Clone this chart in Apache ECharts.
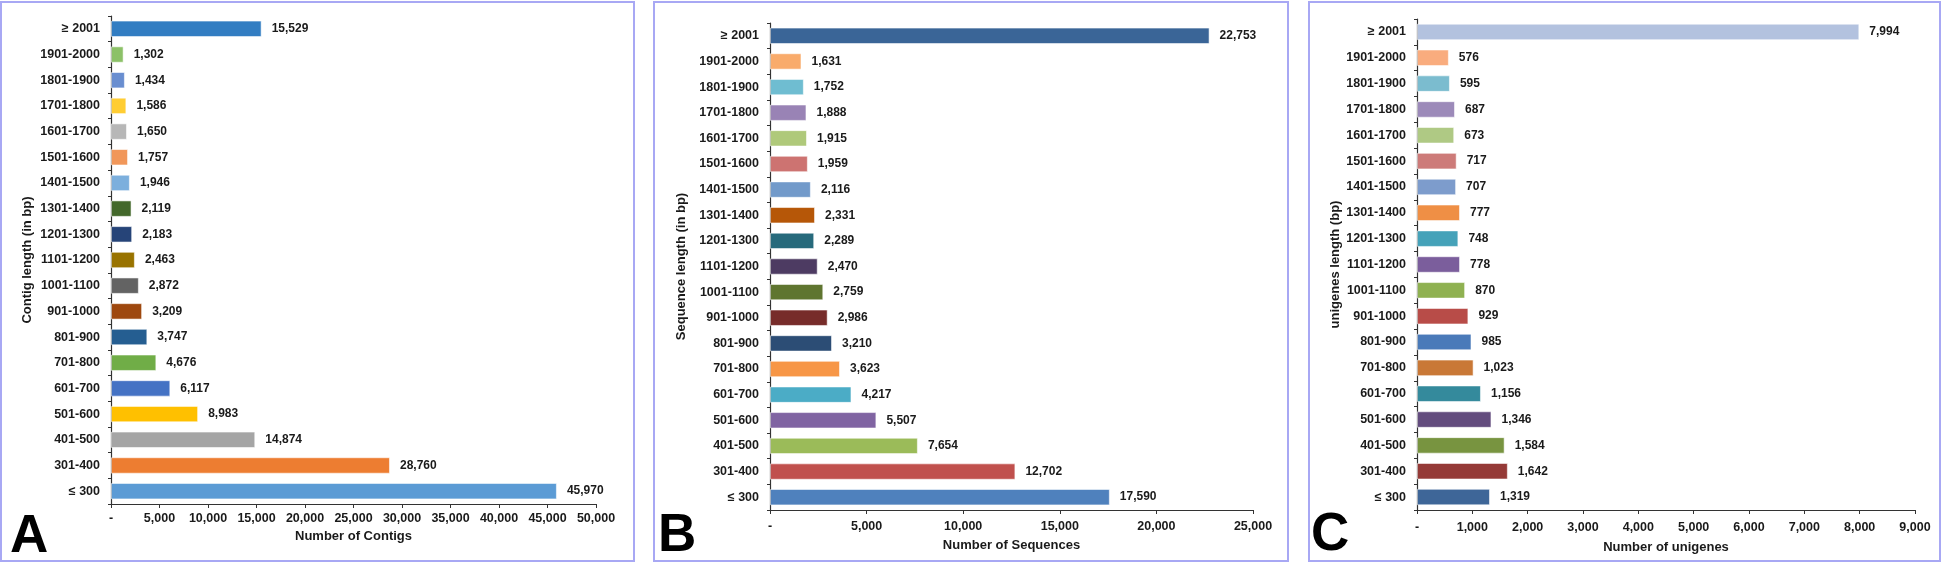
<!DOCTYPE html>
<html>
<head>
<meta charset="utf-8">
<script src="https://cdn.jsdelivr.net/npm/echarts@6/dist/echarts.min.js"></script>
<style>
html,body{margin:0;padding:0;background:#fff;}
#c{width:1943px;height:564px;}
</style>
</head>
<body>
<div id="c"></div>
<script>
// Categories, top to bottom
var categories = ['≥ 2001','1901-2000','1801-1900','1701-1800','1601-1700','1501-1600','1401-1500','1301-1400','1201-1300','1101-1200','1001-1100','901-1000','801-900','701-800','601-700','501-600','401-500','301-400','≤ 300'];

// Panel A: Number of Contigs
var valuesA = [15529,1302,1434,1586,1650,1757,1946,2119,2183,2463,2872,3209,3747,4676,6117,8983,14874,28760,45970];
// Panel B: Number of Sequences
var valuesB = [22753,1631,1752,1888,1915,1959,2116,2331,2289,2470,2759,2986,3210,3623,4217,5507,7654,12702,17590];
// Panel C: Number of unigenes
var valuesC = [7994,576,595,687,673,717,707,777,748,778,870,929,985,1023,1156,1346,1584,1642,1319];

// X axis ticks
var ticksA = [0,5000,10000,15000,20000,25000,30000,35000,40000,45000,50000];
var ticksB = [0,5000,10000,15000,20000,25000];
var ticksC = [0,1000,2000,3000,4000,5000,6000,7000,8000,9000];

var colorsA = ['#327dc2','#8cc168','#698ed0','#ffcd33','#b7b7b7','#f1975a','#7cafdd','#43682b','#264478','#997300','#636363','#9e480e','#255e91','#70ad47','#4472c4','#ffc000','#a5a5a5','#ed7d31','#5b9bd5'];
var colorsB = ['#3a6597','#f9ab6b','#6fbdd1','#9983b5','#afc97a','#cd7371','#729aca','#b65708','#276a7c','#4d3b62','#5f7530','#772c2a','#2c4d75','#f79646','#4bacc6','#8064a2','#9bbb59','#c0504d','#4f81bd'];
var colorsC = ['#b3c2df','#f9ac7e','#7bbccf','#9c8ab9','#afc984','#cd7b79','#7d9ccc','#ef8f45','#45a2b9','#7b5e9c','#8fb151','#b84c48','#4a7ab9','#c97836','#348a9c','#634c7e','#789440','#953a37','#3e6698'];

var FONT = '"Liberation Sans", Arial, sans-serif';
var TXT = '#1a1a1a';
function fmt(v){ return v === 0 ? '-' : Number(v).toLocaleString('en-US'); }

var panels = [
  {grid:{left:111, top:16, width:485, height:488}, values:valuesA, colors:colorsA, ticks:ticksA,
   xName:'Number of Contigs', yName:'Contig length (in bp)', xGap:26, yGap:77, lblMargin:8},
  {grid:{left:770, top:23, width:483, height:487}, values:valuesB, colors:colorsB, ticks:ticksB,
   xName:'Number of Sequences', yName:'Sequence length (in bp)', xGap:29, yGap:82, lblMargin:10},
  {grid:{left:1417, top:19, width:498, height:491}, values:valuesC, colors:colorsC, ticks:ticksC,
   xName:'Number of unigenes', yName:'unigenes length (bp)', xGap:31, yGap:74, lblMargin:11}
];

var grids = [], xAxes = [], yAxes = [], series = [];
panels.forEach(function(p, i){
  grids.push(p.grid);
  var t = p.ticks;
  xAxes.push({
    type:'value', gridIndex:i, min:t[0], max:t[t.length-1], interval:t[1]-t[0],
    splitLine:{show:false},
    axisLine:{show:true, lineStyle:{color:'#333', width:1.2}},
    axisTick:{show:true, length:4, lineStyle:{color:'#333'}},
    axisLabel:{formatter:fmt, color:TXT, fontFamily:FONT, fontWeight:'bold', fontSize:12.5, margin:p.lblMargin},
    name:p.xName, nameLocation:'middle', nameGap:p.xGap,
    nameTextStyle:{color:TXT, fontFamily:FONT, fontWeight:'bold', fontSize:13}
  });
  yAxes.push({
    type:'category', gridIndex:i, data:categories, inverse:true,
    axisLine:{show:true, lineStyle:{color:'#333', width:1.2}},
    axisTick:{show:true, length:3, lineStyle:{color:'#333'}},
    axisLabel:{color:TXT, fontFamily:FONT, fontWeight:'bold', fontSize:12.5, margin:11},
    name:p.yName, nameLocation:'middle', nameGap:p.yGap, nameRotate:90,
    nameTextStyle:{color:TXT, fontFamily:FONT, fontWeight:'bold', fontSize:13}
  });
  series.push({
    type:'bar', xAxisIndex:i, yAxisIndex:i, barCategoryGap:'36%',
    data:p.values.map(function(v, k){ return {value:v, itemStyle:{color:p.colors[k]}}; }),
    itemStyle:{borderColor:'rgba(255,255,255,0.55)', borderWidth:1},
    label:{show:true, position:'right', distance:10, formatter:function(d){ return fmt(d.value); },
      color:TXT, fontFamily:FONT, fontWeight:'bold', fontSize:12}
  });
});

var borderColor = '#a8a8f4';
var graphics = [
  {type:'rect', shape:{x:1, y:2, width:633, height:559}, style:{fill:'none', stroke:borderColor, lineWidth:2}, silent:true},
  {type:'rect', shape:{x:654, y:2, width:634, height:559}, style:{fill:'none', stroke:borderColor, lineWidth:2}, silent:true},
  {type:'rect', shape:{x:1309, y:2, width:631, height:559}, style:{fill:'none', stroke:borderColor, lineWidth:2}, silent:true},
  {type:'text', x:10, y:537, style:{text:'A', fill:'#000', font:'bold 53px ' + FONT, textVerticalAlign:'middle'}},
  {type:'text', x:658, y:536, style:{text:'B', fill:'#000', font:'bold 53px ' + FONT, textVerticalAlign:'middle'}},
  {type:'text', x:1311, y:535, style:{text:'C', fill:'#000', font:'bold 53px ' + FONT, textVerticalAlign:'middle'}}
];

var chart = echarts.init(document.getElementById('c'), null, {renderer:'canvas'});
chart.setOption({
  animation:false,
  backgroundColor:'#fff',
  grid:grids, xAxis:xAxes, yAxis:yAxes, series:series,
  graphic:graphics
});
</script>
</body>
</html>
